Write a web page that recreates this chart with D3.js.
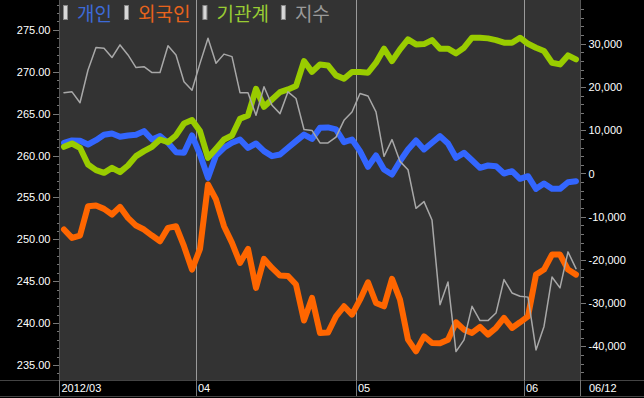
<!DOCTYPE html>
<html>
<head>
<meta charset="utf-8">
<script src="https://cdn.jsdelivr.net/npm/d3@7/dist/d3.min.js"></script>
<style>
html,body{margin:0;padding:0;background:#000;}
svg{display:block;}
</style>
</head>
<body>
<svg id="chart" width="644" height="398"></svg>
<script>
// ---- data ----
const dates = [
 "2012-03-08","2012-03-09","2012-03-12","2012-03-13","2012-03-14","2012-03-15","2012-03-16","2012-03-19","2012-03-20","2012-03-21",
 "2012-03-22","2012-03-23","2012-03-26","2012-03-27","2012-03-28","2012-03-29","2012-03-30",
 "2012-04-02","2012-04-03","2012-04-04","2012-04-05","2012-04-06","2012-04-09","2012-04-10","2012-04-12","2012-04-13",
 "2012-04-16","2012-04-17","2012-04-18","2012-04-19","2012-04-20","2012-04-23","2012-04-24","2012-04-25","2012-04-26","2012-04-27","2012-04-30",
 "2012-05-02","2012-05-03","2012-05-04","2012-05-07","2012-05-08","2012-05-09","2012-05-10","2012-05-11","2012-05-14","2012-05-15",
 "2012-05-16","2012-05-17","2012-05-18","2012-05-21","2012-05-22","2012-05-23","2012-05-24","2012-05-25","2012-05-29","2012-05-30","2012-05-31",
 "2012-06-01","2012-06-04","2012-06-05","2012-06-07","2012-06-08","2012-06-11","2012-06-12"
];
const seriesNames = ["개인", "외국인", "기관계", "지수"];
// 지수 (left axis)
const indexValues = [267.5,267.6,266.3,270.2,272.9,272.8,271.7,273.2,272.0,270.5,
 270.6,269.9,269.9,273.1,272.0,268.8,267.8,271.0,274.0,271.0,
 272.1,271.8,267.5,267.5,264.8,268.2,266.0,265.0,267.6,266.8,
 263.1,263.0,261.5,261.5,262.2,264.2,265.2,267.4,267.1,265.2,
 259.9,261.9,259.3,258.3,253.7,254.5,252.3,242.2,244.9,236.6,
 238.0,242.0,240.3,240.3,241.2,245.2,243.6,243.2,243.1,236.8,
 239.6,245.5,244.2,248.5,246.5];
// 개인 (right axis)
const individualValues = [7060,7640,7590,6710,7710,8950,9260,8490,8800,8950,
 9800,7870,8640,7100,4940,4780,8800,4400,-1000,4170,
 5940,7100,7870,5940,6940,5170,4010,4400,5940,7480,
 9000,8000,10570,10650,10190,7250,7870,5170,1540,4170,
 930,-230,2850,5560,7640,5560,7100,8640,6940,3630,
 4780,3080,1310,1850,1700,0,540,-1230,-620,-3550,
 -2310,-3550,-3550,-2010,-1770];
// 외국인 (right axis)
const foreignValues = [-12960,-14890,-14350,-7560,-7410,-8180,-9490,-7720,-10260,-12040,
 -12960,-14350,-15660,-12580,-12190,-16820,-22220,-17440,-2550,-6020,
 -12190,-16050,-20680,-17440,-26460,-19750,-21830,-23610,-23690,-25690,
 -34000,-28780,-36880,-36800,-33030,-30710,-32640,-29170,-25150,-29940,
 -30710,-24380,-29170,-38430,-41130,-37650,-39200,-39270,-38430,-34410,
 -36110,-36880,-35490,-37270,-35720,-33410,-35720,-34410,-33030,-23380,
 -22220,-18750,-18750,-22220,-23380];
// 기관계 (right axis)
const institutionValues = [6180,6940,5940,2080,770,150,1310,310,1850,4010,
 5170,6170,7870,7250,8800,11570,12350,9800,3630,5710,
 7870,8800,12660,13430,19600,15430,17130,18820,19440,20220,
 26000,23500,25230,25000,22690,21910,23460,23460,23300,25620,
 28860,26000,28700,31020,29860,29930,30860,28860,28860,27780,
 29090,31400,31400,31250,30860,30250,30250,31400,30000,29090,
 28320,25620,25230,27310,26390];
const leftTicks = [235,240,245,250,255,260,265,270,275];
const rightTicks = [-40000,-30000,-20000,-10000,0,10000,20000,30000];
const monthStarts = ["2012-03-08","2012-04-02","2012-05-02","2012-06-01"];
const monthLabels = ["2012/03","04","05","06"];
const endLabel = "06/12";

// ---- layout ----
const W = 644, H = 398;
const plot = {left: 60, right: 580, top: 0, bottom: 380};
const svg = d3.select("#chart");

svg.append("rect").attr("x",0).attr("y",0).attr("width",W).attr("height",H).attr("fill","#000");
svg.append("rect").attr("x",plot.left).attr("y",plot.top)
  .attr("width",plot.right-plot.left).attr("height",plot.bottom-plot.top).attr("fill","#333333");

const x = d3.scalePoint().domain(dates).range([plot.left, plot.right]).padding(0.5);
const step = x.step();
const yL = d3.scaleLinear().domain([233.21, 278.56]).range([plot.bottom, plot.top]);
const yR = d3.scaleLinear().domain([-47757, 40125]).range([plot.bottom, plot.top]);

// month boundaries
const bounds = monthStarts.map((d,i) => i === 0 ? plot.left - 0.5 : x(d) - step/2);
// vertical gridlines in plot
svg.append("g").selectAll("line").data(bounds.slice(1)).join("line")
  .attr("x1", d => d).attr("x2", d => d)
  .attr("y1", plot.top).attr("y2", plot.bottom)
  .attr("stroke","#9a9a9a").attr("stroke-width",1).attr("shape-rendering","crispEdges");

// bottom strip
const strip = svg.append("g");
strip.append("line").attr("x1",0).attr("x2",W).attr("y1",380.5).attr("y2",380.5)
  .attr("stroke","#444").attr("shape-rendering","crispEdges");
strip.append("line").attr("x1",0).attr("x2",W).attr("y1",396.5).attr("y2",396.5)
  .attr("stroke","#444").attr("shape-rendering","crispEdges");
const seps = bounds.concat([plot.right + 0.5]);
strip.selectAll("line.sep").data(seps).join("line").attr("class","sep")
  .attr("x1", d => d).attr("x2", d => d).attr("y1", 380).attr("y2", 396)
  .attr("stroke","#777").attr("shape-rendering","crispEdges");
const labelData = monthLabels.map((t,i) => ({t, x: bounds[i] + 2}))
  .concat([{t: endLabel, x: plot.right + 9}]);
strip.selectAll("text").data(labelData).join("text")
  .attr("x", d => d.x).attr("y", 392)
  .attr("fill","#fff").attr("font-family","'Liberation Sans', Arial, sans-serif")
  .attr("font-size", 11).text(d => d.t);

// axes
const fmtR = d3.formatLocale({decimal:".", thousands:",", grouping:[3], currency:["",""], minus:"-"}).format(",");
const leftMinor = d3.range(234, 279, 1).filter(v => v % 5 !== 0);
const rightMinor = d3.range(-46000, 40001, 2000).filter(v => v % 10000 !== 0);

function styleAxis(g){
  g.select(".domain").remove();
  g.selectAll(".tick line").attr("stroke","#777").attr("shape-rendering","crispEdges");
  g.selectAll(".tick text").attr("fill","#fff")
    .attr("font-family","'Liberation Sans', Arial, sans-serif").attr("font-size",11);
}
svg.append("g").attr("transform",`translate(${plot.left-0.5},0)`)
  .call(d3.axisLeft(yL).tickValues(leftMinor).tickSize(3).tickFormat(""))
  .call(styleAxis);
svg.append("g").attr("transform",`translate(${plot.left-0.5},0)`)
  .call(d3.axisLeft(yL).tickValues(leftTicks).tickSize(7).tickPadding(2).tickFormat(d3.format(".2f")))
  .call(styleAxis);
svg.append("g").attr("transform",`translate(${plot.right+0.5},0)`)
  .call(d3.axisRight(yR).tickValues(rightMinor).tickSize(3).tickFormat(""))
  .call(styleAxis);
svg.append("g").attr("transform",`translate(${plot.right+0.5},0)`)
  .call(d3.axisRight(yR).tickValues(rightTicks).tickSize(5).tickPadding(3).tickFormat(fmtR))
  .call(styleAxis);
// axis lines
svg.append("line").attr("x1",plot.left-0.5).attr("x2",plot.left-0.5).attr("y1",0).attr("y2",380)
  .attr("stroke","#555").attr("shape-rendering","crispEdges");
svg.append("line").attr("x1",plot.right+0.5).attr("x2",plot.right+0.5).attr("y1",0).attr("y2",380)
  .attr("stroke","#555").attr("shape-rendering","crispEdges");

// lines
const clip = svg.append("clipPath").attr("id","pc").append("rect")
  .attr("x",plot.left).attr("y",plot.top).attr("width",plot.right-plot.left).attr("height",plot.bottom-plot.top);
const series = [
  {name: seriesNames[0], values: individualValues, y: yR, color: "#3366ff", width: 6},
  {name: seriesNames[1], values: foreignValues, y: yR, color: "#ff6600", width: 6},
  {name: seriesNames[2], values: institutionValues, y: yR, color: "#99cc00", width: 6},
  {name: seriesNames[3], values: indexValues, y: yL, color: "#a8a8a8", width: 1.5}
];
const gLines = svg.append("g").attr("clip-path","url(#pc)");
series.forEach(s => {
  const line = d3.line().x((d,i) => x(dates[i])).y(d => s.y(d));
  gLines.append("path").datum(s.values).attr("d", line)
    .attr("fill","none").attr("stroke", s.color).attr("stroke-width", s.width)
    .attr("stroke-linejoin","round").attr("stroke-linecap","round");
});

// legend
const legendColors = ["#3d6ad8","#e8631c","#99cc33","#9a9a9a"];
const lg = svg.append("g");
let lx = 63;
seriesNames.forEach((n,i) => {
  lg.append("rect").attr("x", lx+0.5).attr("y", 5.5).attr("width", 4).attr("height", 14)
    .attr("fill","#d8d8d8").attr("stroke","#888").attr("stroke-width",1);
  const t = lg.append("text").attr("x", lx + 14).attr("y", 21)
    .attr("fill", legendColors[i]).attr("font-family","'Noto Sans CJK KR', sans-serif")
    .attr("font-size", 19).text(n);
  lx = lx + 14 + t.node().getComputedTextLength() + 12;
});
</script>
</body>
</html>
